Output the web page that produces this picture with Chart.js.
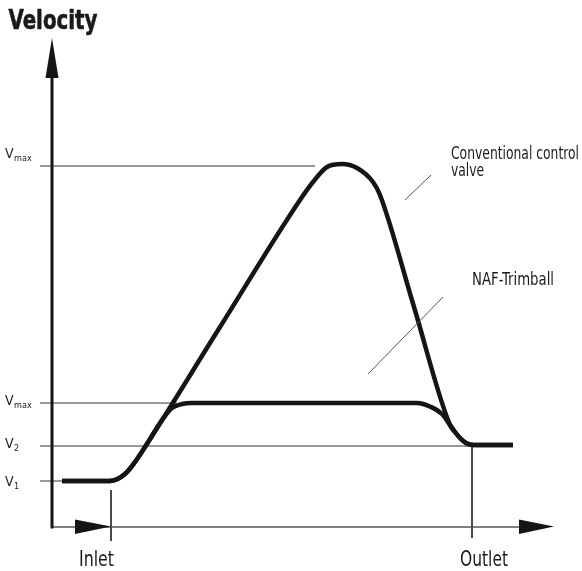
<!DOCTYPE html>
<html><head><meta charset="utf-8">
<script src="https://cdn.jsdelivr.net/npm/chart.js@4.4.0/dist/chart.umd.min.js"></script>
<style>html,body{margin:0;padding:0;background:#fff;}#wrap{width:582px;height:571px;position:relative;}</style>
</head><body><div id="wrap"><canvas id="c"></canvas></div>
<script>
// ---- data (position along the valve on x, velocity on y) ----
const convX = [10, 58, 73, 83, 93, 168, 248, 261, 275, 290, 305, 321, 328, 362, 398, 403, 408, 414, 421, 461];
const convY = [46, 46, 53, 65, 80, 200, 327, 345, 360, 363, 359, 345, 332, 220, 102, 95, 89, 84, 82, 82];
const nafX = [10, 58, 73, 83, 93, 110, 120, 130, 140, 250, 365, 379, 390, 398, 403, 408, 414, 421, 461];
const nafY = [46, 46, 53, 65, 80, 107, 119, 123, 124, 124, 124, 120, 113, 102, 95, 89, 84, 82, 82];
const levelNames = ['V', 'V', 'V', 'V'];
const levelSubs = ['1', '2', 'max', 'max'];
const levelValues = [46, 81, 124, 361];
const levelEnds = [10, 440, 125, 263];
const positionLabels = ['Inlet', 'Outlet'];
const positionValues = [59, 420];
const seriesLabels = ['Conventional control', 'valve', 'NAF-Trimball'];
const axisTitle = 'Velocity';

// ---- layout / style ----
const FONT = "'Liberation Sans Narrow','Arial Narrow','DejaVu Sans Condensed',sans-serif";
const GUIDE_START = -12;
const TICK_TOP = [37, 80];
const TICK_BOTTOM = [-14, -11];
const LABEL_DY = [5, 2, 2, -8];

const pts = (xs, ys) => xs.map((x, i) => ({x, y: ys[i]}));

const datasets = [
  {label: 'conv', data: pts(convX, convY), showLine: true, borderColor: '#151515', borderWidth: 4.5,
   pointRadius: 0, cubicInterpolationMode: 'monotone', order: 0, borderJoinStyle: 'round'},
  {label: 'naf', data: pts(nafX, nafY), showLine: true, borderColor: '#151515', borderWidth: 4.5,
   pointRadius: 0, cubicInterpolationMode: 'monotone', order: 0, borderJoinStyle: 'round'}
];
levelValues.forEach((v, i) => datasets.push({
  label: 'g' + i, data: [{x: GUIDE_START, y: v}, {x: levelEnds[i], y: v}], showLine: true,
  borderColor: '#333', borderWidth: 1, pointRadius: 0, order: 2
}));
positionValues.forEach((p, i) => datasets.push({
  label: 't' + i, data: [{x: p, y: TICK_TOP[i]}, {x: p, y: TICK_BOTTOM[i]}], showLine: true,
  borderColor: '#333', borderWidth: 1, pointRadius: 0, order: 2
}));

function fitText(ctx, text, x, y, size, weight, width, align, stroke) {
  ctx.save();
  ctx.font = `${weight} ${size}px ${FONT}`;
  const w = ctx.measureText(text).width;
  const s = width ? width / w : 1;
  let left = x;
  if (align === 'center') left = x - (w * s) / 2;
  ctx.translate(left, y);
  ctx.scale(s, 1);
  ctx.textAlign = 'left';
  ctx.textBaseline = 'alphabetic';
  ctx.fillText(text, 0, 0);
  if (stroke) { ctx.strokeStyle = ctx.fillStyle; ctx.lineWidth = stroke; ctx.lineJoin = 'round'; ctx.strokeText(text, 0, 0); }
  ctx.restore();
  return s;
}

const overlay = {
  id: 'overlay',
  afterDatasetsDraw(chart) {
    const {ctx, scales: {x, y}} = chart;
    const X = v => x.getPixelForValue(v), Y = v => y.getPixelForValue(v);
    ctx.save();
    // x axis
    ctx.strokeStyle = '#555'; ctx.lineWidth = 1.5;
    ctx.beginPath(); ctx.moveTo(X(0), Y(0)); ctx.lineTo(X(480), Y(0)); ctx.stroke();
    // y axis
    ctx.strokeStyle = '#151515'; ctx.lineWidth = 3;
    ctx.beginPath(); ctx.moveTo(X(0), Y(-1.5)); ctx.lineTo(X(0), Y(452)); ctx.stroke();
    ctx.fillStyle = '#151515';
    const tri = (a, b, c) => { ctx.beginPath(); ctx.moveTo(a[0], a[1]); ctx.lineTo(b[0], b[1]); ctx.lineTo(c[0], c[1]); ctx.closePath(); ctx.fill(); };
    // y arrow
    tri([X(0), Y(489)], [X(0) - 6.5, Y(449)], [X(0) + 6.5, Y(449)]);
    // x arrows
    tri([X(59), Y(0) - 0.5], [X(23), Y(0) - 7.5], [X(23), Y(0) + 7]);
    tri([X(502), Y(0) - 0.5], [X(467), Y(0) - 7.5], [X(467), Y(0) + 7]);
    // leader lines
    ctx.strokeStyle = '#555'; ctx.lineWidth = 1;
    ctx.beginPath(); ctx.moveTo(X(379), Y(352)); ctx.lineTo(X(353), Y(327)); ctx.stroke();
    ctx.beginPath(); ctx.moveTo(X(391), Y(230)); ctx.lineTo(X(316), Y(153)); ctx.stroke();
    // texts
    ctx.fillStyle = '#1a1a1a';
    fitText(ctx, axisTitle, 8.5, 29, 26, 'bold', 89, null, 0.6);
    const s = fitText(ctx, seriesLabels[0], 451, 159, 18, 'normal', 128);
    ctx.save(); ctx.font = `normal 18px ${FONT}`; ctx.translate(451, 176); ctx.scale(s, 1); ctx.fillText(seriesLabels[1], 0, 0); ctx.restore();
    fitText(ctx, seriesLabels[2], 472, 285, 17, 'normal', 82);
    fitText(ctx, positionLabels[0], X(positionValues[0]) - 14.5, 566, 22, 'normal', 35, 'center');
    fitText(ctx, positionLabels[1], X(positionValues[1]) + 12, 566, 22, 'normal', 48, 'center');
    levelValues.forEach((v, i) => {
      const base = Y(v) + LABEL_DY[i];
      ctx.font = `normal 14px ${FONT}`;
      ctx.fillText(levelNames[i], 5, base);
      const w = ctx.measureText(levelNames[i]).width;
      ctx.font = `normal 9px ${FONT}`;
      ctx.fillText(levelSubs[i], 5 + w + 0.5, base + 3);
    });
    ctx.restore();
  }
};

new Chart(document.getElementById('c'), {
  type: 'scatter',
  data: {datasets},
  options: {
    responsive: true, maintainAspectRatio: false, animation: false, events: [],
    layout: {padding: 0},
    scales: {
      x: {type: 'linear', min: -52, max: 530, display: false},
      y: {type: 'linear', min: -44, max: 527, display: false}
    },
    plugins: {legend: {display: false}, tooltip: {enabled: false}}
  },
  plugins: [overlay]
});
</script>
</body></html>
